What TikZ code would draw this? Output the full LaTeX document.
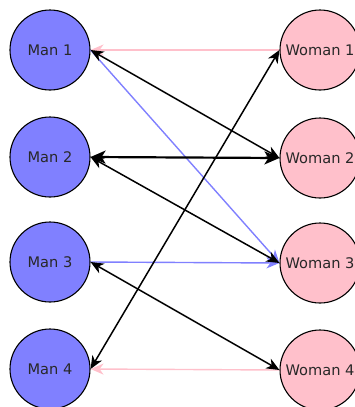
\documentclass[tikz,border=0pt]{standalone}
\usepackage{fontspec}
\setmainfont{DejaVu Sans}
\usetikzlibrary{arrows.meta}
\definecolor{manblue}{RGB}{128,128,255}
\definecolor{womanpink}{RGB}{255,192,203}
\definecolor{txt}{RGB}{40,40,40}
\tikzset{
  person/.style={circle, draw=black, line width=1.1pt, minimum size=80pt, inner sep=0pt, text=txt, font=\fontsize{14.6}{16}\selectfont},
  man/.style={person, fill=manblue},
  woman/.style={person, fill=womanpink},
  tip/.style={-{Stealth[length=13pt,width=11pt,inset=4pt]}},
  pinkedge/.style={tip, draw=womanpink, line width=1.4pt},
  blueedge/.style={tip, draw=manblue, line width=1.4pt},
  blackedge/.style={{Stealth[length=13pt,width=11pt,inset=4pt]}-{Stealth[length=13pt,width=11pt,inset=4pt]}, draw=black, line width=1.5pt},
  thickedge/.style={{Stealth[length=15pt,width=13pt,inset=4pt]}-{Stealth[length=15pt,width=13pt,inset=4pt]}, draw=black, line width=2.2pt}
}
\begin{document}
\begin{tikzpicture}[x=1pt,y=-1pt]
\useasboundingbox (0,0) rectangle (354,407);
\node[man] (m1) at (50,50) {Man 1};
\node[man] (m2) at (50,157) {Man 2};
\node[man] (m3) at (50,262) {Man 3};
\node[man] (m4) at (50,369) {Man 4};
\node[woman] (w1) at (320,50) {Woman 1};
\node[woman] (w2) at (320,158) {Woman 2};
\node[woman] (w3) at (320,263) {Woman 3};
\node[woman] (w4) at (320,370) {Woman 4};
\draw[pinkedge] (w1.west) -- (m1.east);
\draw[pinkedge] (w4.west) -- (m4.east);
\draw[blueedge] (m1.east) -- (w3.west);
\draw[blueedge] (m3.east) -- (w3.west);
\draw[blackedge] (m1.east) -- (w2.west);
\draw[thickedge] (m2.east) -- (w2.west);
\draw[blackedge] (m2.east) -- (w3.west);
\draw[blackedge] (m4.east) -- (w1.west);
\draw[blackedge] (m3.east) -- (w4.west);
\end{tikzpicture}
\end{document}
